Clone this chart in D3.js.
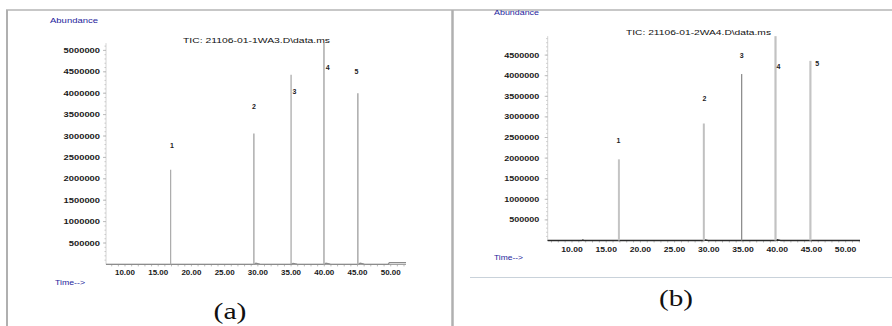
<!DOCTYPE html>
<html>
<head>
<meta charset="utf-8">
<script src="https://cdn.jsdelivr.net/npm/d3@7"></script>
<style>
  body { margin: 0; background: #fff; }
  svg { display: block; }
</style>
</head>
<body>
<svg id="chart" width="892" height="326"></svg>
<script>
// ---- data: total ion chromatograms of two runs ----
const peakNames = ["1", "2", "3", "4", "5"];

// run (a): retention time (min) and apex abundance of each peak
const timesA   = [16.87, 29.40, 35.00, 39.95, 45.05];
const heightsA = [2210000, 3060000, 4430000, 5170000, 4000000];
// run (b)
const timesB   = [16.86, 29.27, 34.80, 39.75, 44.85];
const heightsB = [1970000, 2840000, 4040000, 4960000, 4360000];

// baseline between peaks: [time, abundance]
const baselineA = [[7.14, 0], [29.45, 0], [29.7, 30000], [30.3, 8000], [31.0, 0],
                   [35.05, 0], [35.3, 25000], [35.9, 6000], [36.5, 0],
                   [40.0, 0], [40.25, 30000], [40.9, 8000], [41.6, 0],
                   [45.1, 0], [45.4, 30000], [46.0, 8000], [46.8, 0],
                   [49.6, 0], [49.8, 40000], [52.3, 40000]];
const baselineB = [[6.45, 0], [11.5, 0], [11.6, 15000], [11.7, 0],
                   [29.3, 0], [29.5, 15000], [29.9, 0],
                   [39.8, 0], [40.0, 20000], [40.5, 0], [52.1, 0]];

const yTicksA = [500000, 1000000, 1500000, 2000000, 2500000, 3000000, 3500000, 4000000, 4500000, 5000000];
const yTicksB = [500000, 1000000, 1500000, 2000000, 2500000, 3000000, 3500000, 4000000, 4500000];
const xTicks  = [10, 15, 20, 25, 30, 35, 40, 45, 50];
const xTickText = xTicks.map(d => d.toFixed(2));

const titleA = "TIC: 21106-01-1WA3.D\\data.ms";
const titleB = "TIC: 21106-01-2WA4.D\\data.ms";

// ---- drawing ----
const svg = d3.select("#chart");
const SANS = "'Liberation Sans', Arial, sans-serif";
const SERIF = "'Liberation Serif', 'Times New Roman', serif";
const BLUE = "#1c1c9c";

// frame of the figure table
const frame = svg.append("g");
frame.append("line").attr("x1", 6).attr("x2", 892).attr("y1", 10).attr("y2", 10)
  .attr("stroke", "#b4b4b4").attr("stroke-width", 1.5);
frame.append("line").attr("x1", 7).attr("x2", 7).attr("y1", 10).attr("y2", 326)
  .attr("stroke", "#b0b0b0").attr("stroke-width", 2);
frame.append("line").attr("x1", 452.5).attr("x2", 452.5).attr("y1", 10).attr("y2", 326)
  .attr("stroke", "#b0b0b0").attr("stroke-width", 2.5);
frame.append("line").attr("x1", 470).attr("x2", 892).attr("y1", 277.5).attr("y2", 277.5)
  .attr("stroke", "#c9d2da").attr("stroke-width", 1);

// text with a fixed rendered width
function label(g, x, y, s, o) {
  const t = g.append("text")
    .attr("x", x).attr("y", y)
    .attr("font-family", o.family || SANS)
    .attr("font-size", o.size)
    .attr("font-weight", o.weight || "normal")
    .attr("fill", o.fill || "#222")
    .attr("text-anchor", o.anchor || "start")
    .attr("dominant-baseline", o.baseline || "central")
    .text(s);
  if (o.width) t.attr("textLength", o.width).attr("lengthAdjust", "spacingAndGlyphs");
  return t;
}

function panel(cfg) {
  const g = svg.append("g");
  const x = d3.scaleLinear().domain(cfg.xDomain).range(cfg.xRange);
  const y = d3.scaleLinear().domain([0, cfg.yRef]).range(cfg.yRange);
  const y0 = y(0);
  const xL = cfg.xRange[0], xR = cfg.xRange[1];

  // y axis: light line with minor ticks every 100000
  const yTop = y(d3.max(cfg.heights));
  g.append("line").attr("x1", xL).attr("x2", xL).attr("y1", yTop).attr("y2", y0)
    .attr("stroke", "#d4d4d4").attr("stroke-width", 1);
  const yMinor = d3.range(100000, y.invert(yTop), 100000);
  g.selectAll(".ymin").data(yMinor).join("line")
    .attr("x1", xL - 1.5).attr("x2", xL).attr("y1", d => y(d)).attr("y2", d => y(d))
    .attr("stroke", "#c8c8c8").attr("stroke-width", 1);
  g.selectAll(".ymaj").data(cfg.yTicks).join("line")
    .attr("x1", xL - 3).attr("x2", xL).attr("y1", d => y(d)).attr("y2", d => y(d))
    .attr("stroke", "#bcbcbc").attr("stroke-width", 1);
  cfg.yTicks.forEach(v => {
    const s = String(v);
    label(g, cfg.yLabelX, y(v), s, { size: 7, weight: "bold", anchor: "end",
      width: s.length * cfg.digitW, fill: "#1a1a1a" });
  });

  // x axis with minor ticks every minute
  const xMinor = d3.range(Math.ceil(cfg.xDomain[0]), cfg.xDomain[1], 1);
  g.selectAll(".xmin").data(xMinor).join("line")
    .attr("x1", d => x(d)).attr("x2", d => x(d)).attr("y1", y0).attr("y2", y0 + 2)
    .attr("stroke", "#aaa").attr("stroke-width", 0.8);
  xTicks.forEach((v, i) => {
    label(g, x(v), cfg.xLabelY, xTickText[i], { size: 7, weight: "bold", anchor: "middle",
      width: cfg.xLabelW, fill: "#1a1a1a" });
  });

  // baseline trace and x axis line
  g.append("line").attr("x1", xL).attr("x2", xR).attr("y1", y0).attr("y2", y0)
    .attr("stroke", cfg.axisColor).attr("stroke-width", 1);
  const line = d3.line().x(d => x(d[0])).y(d => y(d[1]));
  g.append("path").attr("d", line(cfg.baseline)).attr("fill", "none")
    .attr("stroke", cfg.baseColor).attr("stroke-width", 1.3);

  // peaks
  g.selectAll(".peak").data(cfg.times).join("line")
    .attr("x1", d => x(d)).attr("x2", d => x(d))
    .attr("y1", y0).attr("y2", (d, i) => y(cfg.heights[i]))
    .attr("stroke", (d, i) => cfg.peakColor[i])
    .attr("stroke-width", (d, i) => cfg.peakWidth[i]);

  // peak numbers
  peakNames.forEach((n, i) => {
    const [dx, dy] = cfg.labelOffset[i];
    label(g, x(cfg.times[i]) + dx, y(cfg.heights[i]) + dy, n,
      { size: 7, weight: "bold", anchor: "middle", fill: "#222" });
  });

  // titles and axis captions
  label(g, cfg.title.x, cfg.title.y, cfg.title.text,
    { size: 7.8, anchor: "middle", width: cfg.title.w, fill: "#111" });
  label(g, cfg.abund.x, cfg.abund.y, "Abundance",
    { size: 6.5, fill: BLUE, width: cfg.abund.w });
  label(g, cfg.time.x, cfg.time.y, "Time-->",
    { size: 6.5, fill: BLUE, width: cfg.time.w });
  label(g, cfg.tag.x, cfg.tag.y, cfg.tag.text,
    { size: 24, family: SERIF, anchor: "middle", baseline: "alphabetic",
      width: cfg.tag.w, fill: "#111" });
}

panel({
  xDomain: [7.14, 52.3], xRange: [106, 406],
  yRef: 5000000, yRange: [264.4, 50.4],
  yTicks: yTicksA, yLabelX: 100, digitW: 5.2,
  xLabelY: 272.5, xLabelW: 20,
  times: timesA, heights: heightsA, baseline: baselineA,
  axisColor: "#9a9a9a", baseColor: "#8c8c8c",
  peakColor: ["#aaaaaa", "#a8a8a8", "#a4a4a4", "#b0b0b0", "#b0b0b0"],
  peakWidth: [1.2, 1.4, 1.2, 1.6, 1.6],
  labelOffset: [[1.3, -24], [0, -26.7], [3.3, 17], [3.7, 24.6], [-1.5, -21.5]],
  title: { text: titleA, x: 256.5, y: 40, w: 147 },
  abund: { x: 50, y: 20, w: 48 },
  time: { x: 55, y: 282.5, w: 30 },
  tag: { text: "(a)", x: 230, y: 319, w: 33 }
});

panel({
  xDomain: [6.45, 52.1], xRange: [547.7, 860],
  yRef: 4500000, yRange: [240.5, 55.1],
  yTicks: yTicksB, yLabelX: 539.3, digitW: 5.0,
  xLabelY: 249, xLabelW: 21.5,
  times: timesB, heights: heightsB, baseline: baselineB,
  axisColor: "#222", baseColor: "#2a2a2a",
  peakColor: ["#c4c4c4", "#c0c0c0", "#8e8e8e", "#c2c2c2", "#c4c4c4"],
  peakWidth: [2, 2, 1.3, 2.2, 2.2],
  labelOffset: [[-0.4, -18.6], [0.6, -24.5], [0, -18.4], [3, 29.9], [6.7, 2.4]],
  title: { text: titleB, x: 698.5, y: 32.5, w: 145 },
  abund: { x: 494, y: 12.5, w: 45 },
  time: { x: 494, y: 257.5, w: 29 },
  tag: { text: "(b)", x: 676, y: 306, w: 34 }
});
</script>
</body>
</html>
